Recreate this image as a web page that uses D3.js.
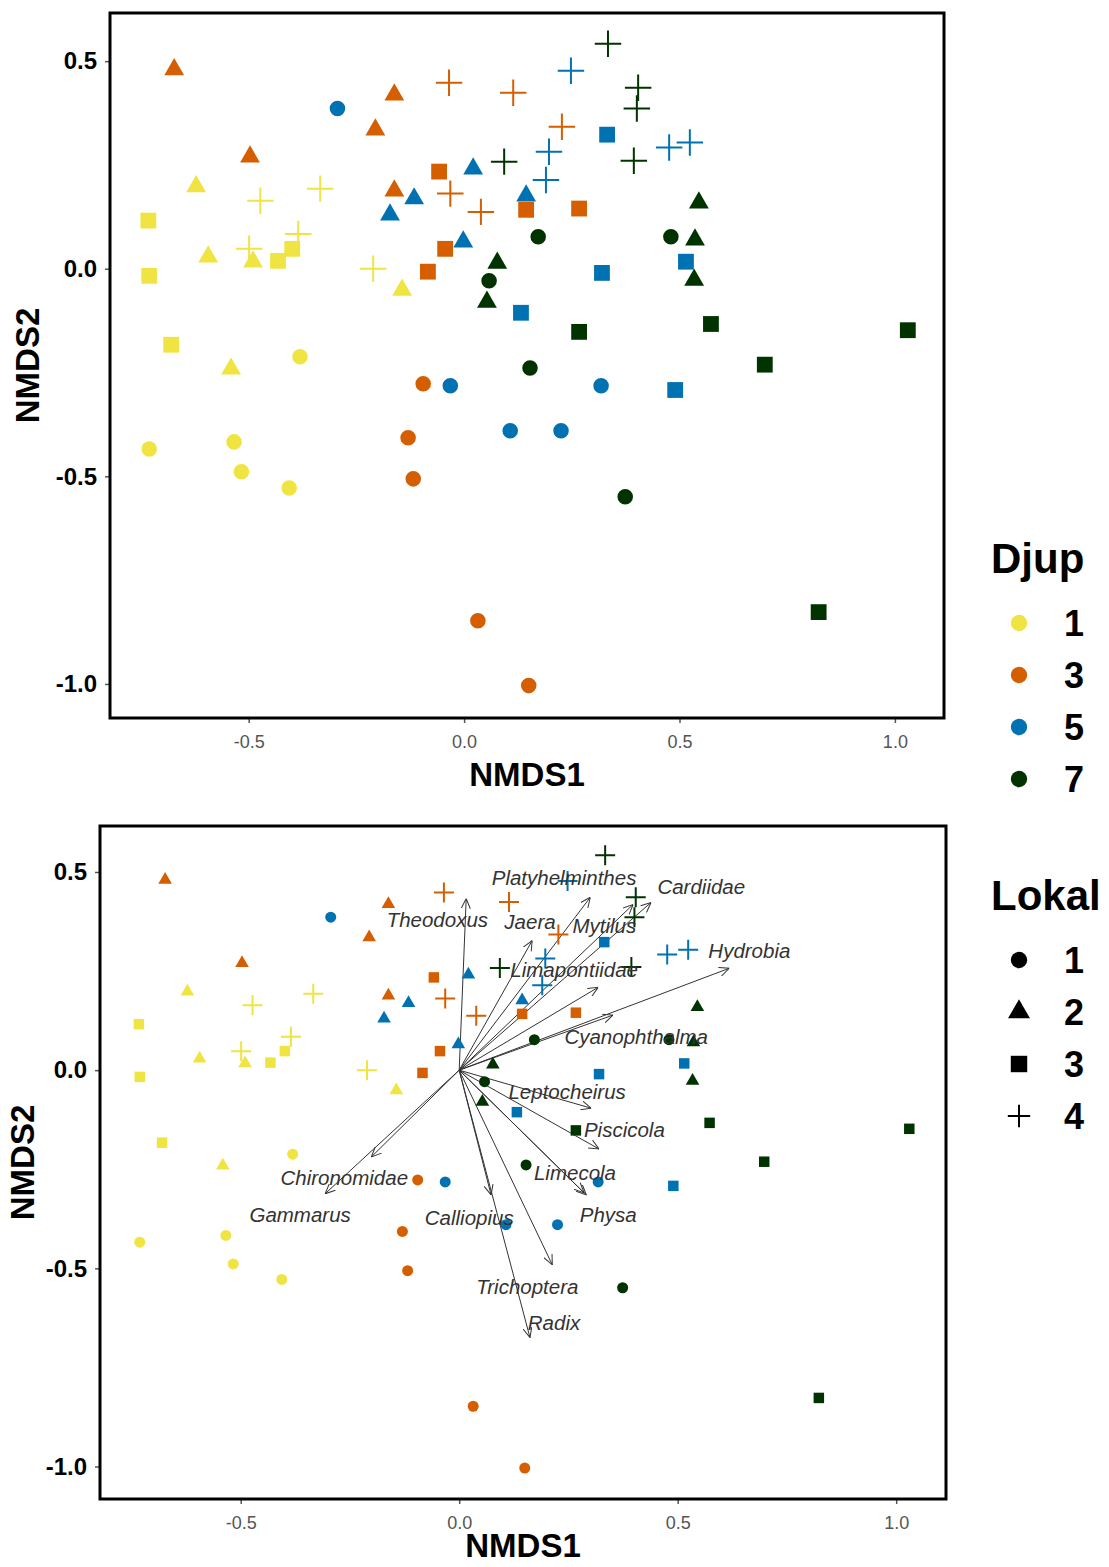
<!DOCTYPE html>
<html>
<head>
<meta charset="utf-8">
<script src="https://cdn.jsdelivr.net/npm/d3@7"></script>
<style>
  body { margin: 0; background: #fff; }
  svg { font-family: "Liberation Sans", Arial, sans-serif; }
</style>
</head>
<body>
<svg width="1109" height="1567"></svg>
<script>
// site scores, grouped Djup 1,3,5,7 and within each Lokal 1..4 (5 each)
var nmds1 = [
  -0.731, -0.534, -0.517, -0.406, -0.381,
  -0.622, -0.594, -0.490, -0.541, -0.144,
  -0.733, -0.731, -0.680, -0.432, -0.399,
  -0.473, -0.334, -0.499, -0.385, -0.211,
  -0.095, -0.130, -0.118, 0.032, 0.150,
  -0.673, -0.162, -0.206, -0.497, -0.162,
  -0.058, 0.144, 0.267, -0.044, -0.084,
  -0.035, 0.114, 0.227, -0.032, 0.039,
  -0.294, -0.032, 0.107, 0.225, 0.318,
  0.021, -0.116, -0.172, -0.002, 0.144,
  0.332, 0.515, 0.320, 0.132, 0.490,
  0.248, 0.524, 0.476, 0.197, 0.190,
  0.172, 0.480, 0.058, 0.153, 0.374,
  0.545, 0.536, 0.534, 0.077, 0.053,
  0.267, 0.573, 1.030, 0.698, 0.823,
  0.334, 0.404, 0.401, 0.394, 0.093
];
var nmds2 = [
  -0.434, -0.417, -0.489, -0.528, -0.212,
  0.198, 0.029, 0.017, -0.241, -0.051,
  0.116, -0.017, -0.183, 0.019, 0.048,
  0.164, 0.193, 0.048, 0.084, 0.000,
  -0.277, -0.407, -0.506, -0.848, -1.004,
  0.480, 0.419, 0.335, 0.270, 0.188,
  0.234, 0.142, 0.145, 0.048, -0.007,
  0.448, 0.424, 0.342, 0.181, 0.137,
  0.386, -0.282, -0.390, -0.390, -0.282,
  0.241, 0.169, 0.130, 0.065, 0.176,
  0.323, 0.017, -0.010, -0.106, -0.292,
  0.477, 0.304, 0.292, 0.282, 0.214,
  0.077, 0.077, -0.029, -0.239, -0.549,
  0.159, 0.070, -0.027, 0.014, -0.080,
  -0.152, -0.133, -0.148, -0.231, -0.827,
  0.542, 0.436, 0.386, 0.260, 0.258
];
var djupLevels = ["1", "3", "5", "7"];
var lokalLevels = ["1", "2", "3", "4"];
var djupColors = ["#F0E442", "#D55E00", "#0072B2", "#003300"];

var sites = nmds1.map(function (v, i) {
  return {
    x: v, y: nmds2[i],
    djup: djupLevels[Math.floor(i / 20)],
    lokal: lokalLevels[Math.floor((i % 20) / 5)]
  };
});

// species vectors (arrow tips) and label positions
var species = ["Theodoxus", "Platyhelminthes", "Jaera", "Mytilus", "Cardiidae", "Hydrobia",
  "Limapontiidae", "Cyanophthalma", "Leptocheirus", "Piscicola", "Limecola", "Physa",
  "Calliopius", "Trichoptera", "Radix", "Chironomidae", "Gammarus"];
var vecX = [0.016, 0.300, 0.167, 0.398, 0.439, 0.618, 0.318, 0.352, 0.302, 0.320, 0.286, 0.291,
  0.073, 0.213, 0.162, -0.201, -0.307];
var vecY = [0.433, 0.436, 0.327, 0.418, 0.423, 0.257, 0.209, 0.139, -0.096, -0.199, -0.310, -0.315,
  -0.315, -0.491, -0.675, -0.219, -0.312];
var labX = [-0.050, 0.240, 0.162, 0.332, 0.554, 0.664, 0.263, 0.405, 0.247, 0.378, 0.265, 0.341,
  0.023, 0.156, 0.217, -0.263, -0.364];
var labY = [0.380, 0.486, 0.375, 0.365, 0.463, 0.300, 0.254, 0.083, -0.055, -0.151, -0.259, -0.365,
  -0.373, -0.547, -0.637, -0.272, -0.365];

var xTicks = [-0.5, 0.0, 0.5, 1.0];
var yTicks = [0.5, 0.0, -0.5, -1.0];

var svg = d3.select("svg");

var plusType = {
  draw: function (ctx, size) {
    var r = Math.sqrt(size) / 2;
    ctx.moveTo(-r, 0); ctx.lineTo(r, 0);
    ctx.moveTo(0, -r); ctx.lineTo(0, r);
  }
};
var shapeTypes = {"1": d3.symbolCircle, "2": d3.symbolTriangle, "3": d3.symbolSquare, "4": plusType};
var color = d3.scaleOrdinal().domain(djupLevels).range(djupColors);

svg.append("defs").append("marker")
  .attr("id", "arr")
  .attr("viewBox", "0 0 10 10")
  .attr("refX", 10).attr("refY", 5)
  .attr("markerWidth", 10).attr("markerHeight", 10)
  .attr("markerUnits", "userSpaceOnUse")
  .attr("orient", "auto")
  .append("path")
  .attr("d", "M0,0.5 L10,5 L0,9.5")
  .attr("fill", "none")
  .attr("stroke", "#333")
  .attr("stroke-width", 1);

// ggplot style labels: plain hyphen minus
function fmt(d) { return d.toFixed(1); }

function panel(box, sizes, opts) {
  var x = d3.scaleLinear().domain([-0.822, 1.114]).range([box.left, box.right]);
  var y = d3.scaleLinear().domain([0.616, -1.082]).range([box.top, box.bottom]);
  var g = svg.append("g");

  // axes
  var gx = g.append("g")
    .attr("transform", "translate(0," + box.bottom + ")")
    .call(d3.axisBottom(x).tickValues(xTicks).tickFormat(fmt).tickSize(5).tickPadding(12));
  gx.select(".domain").remove();
  gx.selectAll("line").attr("stroke", "#555").attr("stroke-width", 1.5);
  gx.selectAll("text").attr("fill", "#555").attr("font-size", 18)
    .attr("font-family", "Liberation Sans, Arial, sans-serif");

  var gy = g.append("g")
    .attr("transform", "translate(" + box.left + ",0)")
    .call(d3.axisLeft(y).tickValues(yTicks).tickFormat(fmt).tickSize(5).tickPadding(8));
  gy.select(".domain").remove();
  gy.selectAll("line").attr("stroke", "#555").attr("stroke-width", 1.5);
  gy.selectAll("text").attr("fill", "#000").attr("font-size", 24).attr("font-weight", "bold")
    .attr("font-family", "Liberation Sans, Arial, sans-serif");

  // arrows under the points
  if (opts.vectors) {
    g.selectAll(".vec")
      .data(species)
      .enter().append("line")
      .attr("class", "vec")
      .attr("x1", x(0)).attr("y1", y(0))
      .attr("x2", function (d, i) { return x(vecX[i]); })
      .attr("y2", function (d, i) { return y(vecY[i]); })
      .attr("stroke", "#333")
      .attr("stroke-width", 1)
      .attr("marker-end", "url(#arr)");
  }

  g.selectAll(".pt")
    .data(sites)
    .enter().append("path")
    .attr("class", "pt")
    .attr("transform", function (d) { return "translate(" + x(d.x) + "," + y(d.y) + ")"; })
    .attr("d", function (d) {
      return d3.symbol().type(shapeTypes[d.lokal]).size(sizes[d.lokal])();
    })
    .attr("fill", function (d) { return d.lokal === "4" ? "none" : color(d.djup); })
    .attr("stroke", function (d) { return d.lokal === "4" ? color(d.djup) : "none"; })
    .attr("stroke-width", 2);

  if (opts.vectors) {
    g.selectAll(".lab")
      .data(species)
      .enter().append("text")
      .attr("class", "lab")
      .attr("x", function (d, i) { return x(labX[i]); })
      .attr("y", function (d, i) { return y(labY[i]); })
      .attr("dy", "0.35em")
      .attr("text-anchor", "middle")
      .attr("font-size", 20.5)
      .attr("font-style", "italic")
      .attr("fill", "#333")
      .text(function (d) { return d; });
  }

  // frame
  g.append("rect")
    .attr("x", box.left).attr("y", box.top)
    .attr("width", box.right - box.left).attr("height", box.bottom - box.top)
    .attr("fill", "none").attr("stroke", "#000").attr("stroke-width", 3);

  g.append("text")
    .attr("x", (box.left + box.right) / 2).attr("y", box.bottom + opts.xlabDy)
    .attr("text-anchor", "middle")
    .attr("font-size", 33).attr("font-weight", "bold")
    .text("NMDS1");
  g.append("text")
    .attr("transform", "translate(" + opts.ylabX + "," + ((box.top + box.bottom) / 2) + ") rotate(-90)")
    .attr("text-anchor", "middle")
    .attr("font-size", 33).attr("font-weight", "bold")
    .text("NMDS2");
}

panel({left: 110, right: 944, top: 13, bottom: 718},
  {"1": 190, "2": 170, "3": 250, "4": 700}, {vectors: false, ylabX: 39, xlabDy: 68});
panel({left: 100, right: 946, top: 826, bottom: 1499},
  {"1": 95, "2": 80, "3": 110, "4": 400}, {vectors: true, ylabX: 34, xlabDy: 58});

// legends
function legend(title, top, keys, colorOf, shapeOf) {
  var lg = svg.append("g");
  lg.append("text")
    .attr("x", 991).attr("y", top)
    .attr("font-size", 42).attr("font-weight", "bold")
    .text(title);
  var items = lg.selectAll(".key")
    .data(keys)
    .enter().append("g")
    .attr("transform", function (d, i) { return "translate(1019," + (top + 50 + i * 52) + ")"; });
  items.append("path")
    .attr("d", function (d) {
      var s = shapeOf(d);
      return d3.symbol().type(shapeTypes[s]).size(s === "4" ? 500 : (s === "3" ? 270 : 210))();
    })
    .attr("fill", function (d) { return shapeOf(d) === "4" ? "none" : colorOf(d); })
    .attr("stroke", function (d) { return shapeOf(d) === "4" ? colorOf(d) : "none"; })
    .attr("stroke-width", 2);
  items.append("text")
    .attr("x", 45).attr("dy", "0.36em")
    .attr("font-size", 36).attr("font-weight", "bold")
    .text(function (d) { return d; });
}

legend("Djup", 573, djupLevels, function (d) { return color(d); }, function () { return "1"; });
legend("Lokal", 910, lokalLevels, function () { return "#000"; }, function (d) { return d; });
</script>
</body>
</html>
